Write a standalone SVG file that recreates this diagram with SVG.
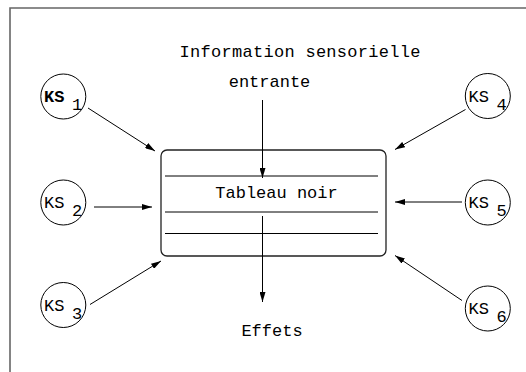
<svg xmlns="http://www.w3.org/2000/svg" width="526" height="372" viewBox="0 0 526 372">
  <defs>
    <marker id="arrow" viewBox="0 0 10 6" refX="10" refY="3" markerWidth="10" markerHeight="6" markerUnits="userSpaceOnUse" orient="auto">
      <path d="M0,0 L10,3 L0,6 Z" fill="#000"/>
    </marker>
    <style>
      .frame { fill: none; stroke: #666; stroke-width: 1.6; }
      .ks { fill: #fff; stroke: #000; stroke-width: 1; }
      .conn { fill: none; stroke: #000; stroke-width: 1; marker-end: url(#arrow); }
      .rule { stroke: #000; stroke-width: 1; }
      .board { fill: #fff; stroke: #222; stroke-width: 1.3; }
      text { font-family: "Liberation Mono", "DejaVu Sans Mono", monospace; font-size: 17px; fill: #000; }
      .lbl { text-anchor: middle; }
      .sub { font-size: 17px; }
    </style>
  </defs>

  <rect width="526" height="372" fill="#fff"/>
  <!-- page frame -->
  <path class="frame" d="M10,372 L10,8 L526,8"/>

  <!-- captions -->
  <text class="lbl" x="300" y="57" textLength="241">Information sensorielle</text>
  <text class="lbl" x="269.5" y="87">entrante</text>
  <text class="lbl" x="272" y="336">Effets</text>

  <!-- blackboard -->
  <g id="tableau-noir">
    <rect class="board" x="161" y="150" width="225" height="106" rx="6" ry="6"/>
    <line class="rule" x1="165" y1="176" x2="378" y2="176"/>
    <line class="rule" x1="165" y1="212" x2="378" y2="212"/>
    <line class="rule" x1="165" y1="233.5" x2="378" y2="233.5"/>
    <text class="lbl" x="276.5" y="198">Tableau noir</text>
  </g>

  <!-- knowledge sources -->
  <g id="ks1">
    <circle class="ks" cx="63.3" cy="96.5" r="22.5"/>
    <text x="44" y="102" font-weight="bold">KS</text>
    <text class="sub" x="72" y="110">1</text>
  </g>
  <g id="ks2">
    <circle class="ks" cx="63.3" cy="202.5" r="22.5"/>
    <text x="44" y="208">KS</text>
    <text class="sub" x="72" y="216">2</text>
  </g>
  <g id="ks3">
    <circle class="ks" cx="63.3" cy="305" r="22.5"/>
    <text x="44" y="310.5">KS</text>
    <text class="sub" x="72" y="318.5">3</text>
  </g>
  <g id="ks4">
    <circle class="ks" cx="487.8" cy="96" r="22.5"/>
    <text x="468.5" y="101.5">KS</text>
    <text class="sub" x="496.5" y="109.5">4</text>
  </g>
  <g id="ks5">
    <circle class="ks" cx="487.8" cy="202.5" r="22.5"/>
    <text x="468.5" y="208">KS</text>
    <text class="sub" x="496.5" y="216">5</text>
  </g>
  <g id="ks6">
    <circle class="ks" cx="487.8" cy="308.5" r="22.5"/>
    <text x="468.5" y="314">KS</text>
    <text class="sub" x="496.5" y="322">6</text>
  </g>

  <!-- connectors -->
  <g id="connectors">
    <line class="conn" x1="262.5" y1="100" x2="262.5" y2="178"/>
    <line class="conn" x1="262.5" y1="216" x2="262.5" y2="302"/>
    <line class="conn" x1="88" y1="108" x2="155" y2="151"/>
    <line class="conn" x1="94" y1="207" x2="152" y2="207"/>
    <line class="conn" x1="90" y1="304.5" x2="161" y2="261"/>
    <line class="conn" x1="465.5" y1="109.5" x2="395" y2="149.5"/>
    <line class="conn" x1="462" y1="202" x2="395" y2="202"/>
    <line class="conn" x1="462" y1="300.5" x2="395" y2="255.5"/>
  </g>
</svg>
